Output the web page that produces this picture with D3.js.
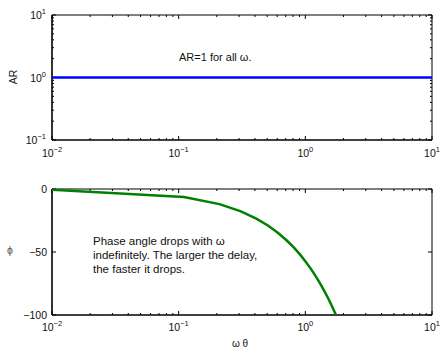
<!DOCTYPE html>
<html><head><meta charset="utf-8">
<script src="https://cdn.jsdelivr.net/npm/d3@7"></script>
<style>body{margin:0;background:#fff}svg{display:block;font-family:"Liberation Sans",Arial,sans-serif}</style>
</head><body>
<svg id="c" width="440" height="348"></svg>
<script>
// data
const xTickExps = [-2, -1, 0, 1];
const arYTickExps = [-1, 0, 1];
const phaseTicks = [0, -50, -100];
const arOmega = [0.01, 10];
const arValues = [1, 1];
const phaseOmega = [0.01, 0.11, 0.21, 0.31, 0.41, 0.51, 0.61, 0.71, 0.81, 0.91, 1.01, 1.11, 1.21, 1.31, 1.41, 1.51, 1.61, 1.71, 1.81];
const phaseValues = [-0.6, -6.3, -12.0, -17.8, -23.5, -29.2, -35.0, -40.7, -46.4, -52.1, -57.9, -63.6, -69.3, -75.1, -80.8, -86.5, -92.2, -98.0, -103.7];

const svg = d3.select("#c");
const L = 52, R = 432;
const top1 = 15, bot1 = 140, top2 = 189, bot2 = 315;
const x = d3.scaleLog().domain([0.01, 10]).range([L, R]);
const yAR = d3.scaleLog().domain([0.1, 10]).range([bot1, top1]);
const yPh = d3.scaleLinear().domain([-100, 0]).range([bot2, top2]);

function minorVals(lo, hi) {
  const out = [];
  for (let e = Math.floor(Math.log10(lo)); e < Math.ceil(Math.log10(hi)); e++)
    for (let m = 2; m <= 9; m++) out.push(m * Math.pow(10, e));
  return out;
}
const xMinor = minorVals(0.01, 10);
const yMinor = minorVals(0.1, 10);

function pow10Label(g, xpos, ypos, exp, anchor) {
  const t = g.append("text").attr("x", xpos).attr("y", ypos).attr("font-size", 10.5).attr("fill", "#111").attr("text-anchor", anchor);
  t.append("tspan").text("10");
  t.append("tspan").attr("dy", -5).attr("font-size", 7.5).text(exp < 0 ? "\u2212" + (-exp) : String(exp));
  return t;
}

function frame(top, bot) {
  const g = svg.append("g");
  g.append("line").attr("x1", L).attr("x2", R).attr("y1", top).attr("y2", top).attr("stroke", "#000").attr("stroke-width", 1);
  g.append("line").attr("x1", R).attr("x2", R).attr("y1", top).attr("y2", bot).attr("stroke", "#000").attr("stroke-width", 1);
  g.append("line").attr("x1", L).attr("x2", R).attr("y1", bot).attr("y2", bot).attr("stroke", "#000").attr("stroke-width", 1.6);
  g.append("line").attr("x1", L).attr("x2", L).attr("y1", top).attr("y2", bot).attr("stroke", "#000").attr("stroke-width", 1.6);
  xTickExps.forEach(e => {
    const xp = x(Math.pow(10, e));
    g.append("line").attr("x1", xp).attr("x2", xp).attr("y1", bot).attr("y2", bot - 4).attr("stroke", "#000");
    g.append("line").attr("x1", xp).attr("x2", xp).attr("y1", top).attr("y2", top + 4).attr("stroke", "#000");
  });
  xMinor.forEach(v => {
    const xp = x(v);
    g.append("line").attr("x1", xp).attr("x2", xp).attr("y1", bot).attr("y2", bot - 2).attr("stroke", "#000");
    g.append("line").attr("x1", xp).attr("x2", xp).attr("y1", top).attr("y2", top + 2).attr("stroke", "#000");
  });
  return g;
}

// ---------- top panel ----------
const g1 = frame(top1, bot1);
arYTickExps.forEach(e => {
  const yp = yAR(Math.pow(10, e));
  g1.append("line").attr("x1", L).attr("x2", L + 4).attr("y1", yp).attr("y2", yp).attr("stroke", "#000");
  g1.append("line").attr("x1", R).attr("x2", R - 4).attr("y1", yp).attr("y2", yp).attr("stroke", "#000");
  pow10Label(g1, 46, yp + 4, e, "end");
});
yMinor.forEach(v => {
  const yp = yAR(v);
  g1.append("line").attr("x1", L).attr("x2", L + 2).attr("y1", yp).attr("y2", yp).attr("stroke", "#000");
  g1.append("line").attr("x1", R).attr("x2", R - 2).attr("y1", yp).attr("y2", yp).attr("stroke", "#000");
});
xTickExps.forEach(e => pow10Label(g1, x(Math.pow(10, e)), 157, e, "middle"));
svg.append("path").datum(arOmega.map((w, i) => [w, arValues[i]]))
  .attr("d", d3.line().x(d => x(d[0])).y(d => yAR(d[1])))
  .attr("fill", "none").attr("stroke", "#0000ff").attr("stroke-width", 2.5);
svg.append("text").attr("x", 179).attr("y", 61).attr("font-size", 11).attr("fill", "#111").text("AR=1 for all \u03c9.");
svg.append("text").attr("transform", "translate(17,77) rotate(-90)").attr("text-anchor", "middle").attr("font-size", 10.5).attr("fill", "#111").text("AR");

// ---------- bottom panel ----------
svg.append("defs").append("clipPath").attr("id", "clip2").append("rect")
  .attr("x", L).attr("y", top2).attr("width", R - L).attr("height", bot2 - top2);
const g2 = frame(top2, bot2);
phaseTicks.forEach(v => {
  const yp = yPh(v);
  g2.append("line").attr("x1", L).attr("x2", L + 4).attr("y1", yp).attr("y2", yp).attr("stroke", "#000");
  g2.append("line").attr("x1", R).attr("x2", R - 4).attr("y1", yp).attr("y2", yp).attr("stroke", "#000");
  g2.append("text").attr("x", 47).attr("y", yp + 4).attr("text-anchor", "end").attr("font-size", 10.5).attr("fill", "#111")
    .text(v < 0 ? "\u2212" + (-v) : String(v));
});
xTickExps.forEach(e => pow10Label(g2, x(Math.pow(10, e)), 331, e, "middle"));
svg.append("path").datum(phaseOmega.map((w, i) => [w, phaseValues[i]]))
  .attr("clip-path", "url(#clip2)")
  .attr("d", d3.line().x(d => x(d[0])).y(d => yPh(d[1])))
  .attr("fill", "none").attr("stroke", "#008000").attr("stroke-width", 2.5);
const note = ["Phase angle drops with \u03c9", "indefinitely. The larger the delay,", "the faster it drops."];
note.forEach((s, i) => svg.append("text").attr("x", 93).attr("y", 245 + i * 14).attr("font-size", 11.5).attr("fill", "#111").text(s));
svg.append("text").attr("x", 10).attr("y", 254).attr("text-anchor", "middle").attr("font-size", 10.5).attr("fill", "#555").text("\u03d5");
svg.append("text").attr("x", 240).attr("y", 347).attr("text-anchor", "middle").attr("font-size", 10).attr("fill", "#111").text("\u03c9 \u03b8");
</script>
</body></html>
